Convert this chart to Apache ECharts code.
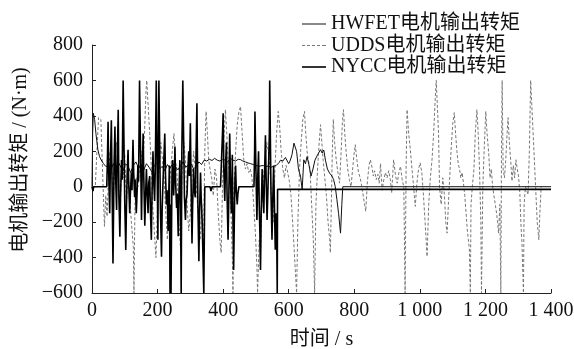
<!DOCTYPE html>
<html>
<head>
    <meta charset="utf-8" />
    <title>电机输出转矩</title>
    <script src="https://cdn.jsdelivr.net/npm/echarts@6/dist/echarts.min.js"></script>
    <style>
        html, body { margin: 0; padding: 0; background: #fff; }
    </style>
</head>
<body>
<div id="main" style="width: 574px;height:349px;"></div>

<script type="text/javascript">
    // 图例名称
    var seriesNames = ['HWFET电机输出转矩', 'UDDS电机输出转矩', 'NYCC电机输出转矩'];

    // HWFET 工况 [时间 s, 转矩 N·m]
    var hwfetData = [
        [0,0],[2,300],[4,415],[8,380],[12,300],[18,208],[23,170],[28,151],[35,130],[43,113],
        [50,125],[58,95],[65,130],[72,100],[80,140],[88,110],[95,90],[102,130],[110,115],[118,80],
        [126,120],[134,140],[142,105],[150,125],[158,95],[166,130],[174,110],[182,85],[190,120],[198,135],
        [206,100],[214,115],[222,90],[230,125],[238,105],[246,130],[254,115],[262,95],[270,120],[278,140],
        [286,110],[294,125],[302,130],[310,100],[318,115],[326,140],[334,125],[342,150],[350,145],[358,155],
        [366,148],[374,160],[382,150],[390,145],[398,155],[406,150],[414,140],[422,160],[430,150],[438,145],
        [446,155],[453,153],[460,145],[468,140],[476,134],[484,130],[492,125],[500,120],[508,115],[514,115],
        [522,120],[530,112],[538,118],[546,110],[554,115],[562,120],[570,135],[575,150],[582,145],[590,165],
        [595,170],[600,130],[605,150],[610,181],[616,246],[620,256],[624,200],[630,96],[636,60],[641,-17],
        [646,152],[651,130],[656,170],[662,120],[668,60],[674,100],[680,150],[688,180],[697,209],[702,190],
        [707,207],[712,150],[718,100],[725,76],[732,60],[737,40],[742,0],[747,-73],[752,-150],[758,-262],
        [762,-100],[765,0],[1400,0]
    ];

    // UDDS 工况
    var uddsData = [
        [0,0],[10,0],[15,200],[20,390],[27,380],[32,100],[38,-224],[42,-50],[46,-168],[50,50],
        [55,200],[60,100],[65,-80],[70,150],[75,250],[80,80],[85,-150],[90,100],[95,50],[100,180],
        [105,-100],[110,80],[115,-50],[120,-200],[126,-337],[128,-600],[131,-100],[135,50],[140,0],[145,100],
        [150,200],[155,100],[160,300],[165,550],[167,600],[172,600],[176,300],[180,150],[185,-100],[190,-250],
        [195,-400],[200,-100],[205,100],[210,250],[215,150],[220,50],[225,-150],[230,-300],[235,-50],[240,100],
        [245,200],[250,300],[255,150],[260,50],[265,-200],[270,-350],[275,100],[280,250],[285,150],[290,-100],
        [295,-250],[300,-150],[305,50],[310,200],[315,100],[320,-50],[325,-200],[330,-300],[335,-100],[340,-373],
        [344,200],[348,425],[352,300],[356,150],[360,100],[365,50],[370,-50],[375,100],[380,50],[385,-150],
        [390,-300],[394,-373],[398,0],[403,300],[407,435],[411,300],[415,150],[420,50],[425,-200],[428,-400],
        [430,-600],[433,0],[438,200],[443,350],[448,420],[453,453],[458,300],[463,150],[468,100],[473,130],
        [478,80],[483,100],[488,50],[493,-100],[498,-250],[503,-450],[505,-600],[507,-600],[510,-300],[514,-400],
        [518,-100],[523,50],[528,150],[533,250],[538,200],[543,100],[548,-100],[553,-200],[558,100],[563,300],
        [568,425],[572,350],[577,200],[582,100],[587,50],[592,120],[597,80],[602,30],[607,-50],[612,-200],
        [618,-400],[624,-600],[628,-200],[633,100],[638,250],[643,380],[648,425],[652,300],[656,200],[660,150],
        [665,100],[670,-100],[675,-300],[679,-600],[683,-100],[688,100],[693,250],[697,350],[701,250],[705,150],
        [710,50],[715,-50],[720,-200],[725,-300],[727,-373],[730,-100],[733,200],[736,380],[740,250],[745,150],
        [750,80],[755,20],[760,200],[764,380],[767,435],[771,300],[775,200],[780,100],[785,40],[790,0],
        [795,100],[799,180],[803,237],[808,150],[813,80],[818,50],[823,0],[828,-60],[835,-139],[840,30],
        [845,120],[849,152],[854,110],[858,60],[862,90],[867,40],[872,70],[876,20],[880,130],[885,-20],
        [890,40],[895,80],[900,50],[905,90],[910,40],[914,-35],[920,152],[926,60],[931,20],[936,80],
        [941,115],[946,40],[951,0],[955,-600],[958,100],[961,435],[966,300],[971,209],[976,100],[981,0],
        [986,-111],[991,20],[996,100],[1001,135],[1006,80],[1011,-50],[1016,-200],[1022,-394],[1027,-100],[1032,50],
        [1037,150],[1042,300],[1047,500],[1050,600],[1054,600],[1057,300],[1060,0],[1065,-100],[1070,50],[1075,-50],
        [1079,-200],[1083,-262],[1087,-100],[1091,50],[1095,200],[1100,350],[1105,418],[1109,300],[1113,200],[1117,130],
        [1121,100],[1125,50],[1129,80],[1133,20],[1137,-50],[1141,-150],[1145,-250],[1148,-300],[1151,-350],[1154,-600],
        [1156,-100],[1160,0],[1165,100],[1169,300],[1174,435],[1178,300],[1182,100],[1186,-200],[1188,-600],[1192,0],
        [1196,200],[1201,425],[1205,300],[1210,190],[1214,50],[1218,100],[1222,0],[1226,-50],[1230,-100],[1234,-150],
        [1237,-200],[1240,-262],[1244,-100],[1247,-600],[1249,200],[1251,600],[1254,100],[1258,50],[1262,150],[1266,300],
        [1269,390],[1273,250],[1277,150],[1281,32],[1285,120],[1289,50],[1293,152],[1297,100],[1301,60],[1305,-38],
        [1308,-200],[1311,-300],[1316,-600],[1318,-100],[1322,0],[1326,-10],[1330,-45],[1334,200],[1338,600],[1344,600],
        [1348,200],[1353,0],[1358,-200],[1363,-300],[1366,-150],[1370,0]
    ];

    // NYCC 工况
    var nyccData = [
        [0,0],[3,-25],[5,0],[45,0],[47,150],[49,367],[51,80],[54,-150],[56,120],[59,375],
        [61,50],[64,-433],[66,-100],[67,100],[70,340],[72,60],[75,-132],[77,150],[80,434],[82,-50],
        [85,-282],[87,-60],[90,150],[92,40],[95,600],[98,600],[100,-100],[103,-357],[105,-120],[107,50],
        [110,208],[112,20],[115,-150],[117,-40],[120,80],[122,-20],[125,265],[127,90],[130,-60],[132,40],
        [135,-150],[137,-60],[140,120],[142,30],[145,600],[147,600],[149,80],[151,-188],[153,60],[156,300],
        [158,50],[161,-220],[163,-80],[166,100],[168,-20],[171,-150],[173,20],[176,60],[178,-120],[181,-300],
        [183,-50],[186,200],[188,40],[191,-80],[193,100],[196,600],[199,600],[201,-300],[202,100],[204,600],
        [206,600],[209,-150],[212,-395],[214,-120],[217,50],[219,150],[222,300],[224,80],[227,-100],[229,-20],
        [232,-250],[234,-50],[236,120],[238,-600],[240,-100],[241,-600],[243,-150],[244,80],[246,150],[249,-50],
        [251,60],[253,227],[255,30],[258,-120],[260,-40],[263,-280],[265,-60],[268,150],[270,-100],[272,-600],
        [274,200],[277,600],[279,600],[282,-60],[285,-188],[287,-80],[290,-40],[292,80],[295,200],[297,60],
        [300,358],[302,50],[305,-320],[307,-100],[310,100],[312,-20],[315,-60],[317,150],[320,471],[323,-100],
        [326,-420],[328,-150],[331,80],[333,-60],[336,-200],[338,-350],[341,-600],[344,0],[360,0],[363,-25],
        [366,0],[392,0],[394,100],[396,200],[398,300],[400,415],[402,100],[405,-80],[407,100],[410,250],
        [412,-50],[415,-300],[417,-100],[420,300],[422,80],[425,-150],[427,-40],[428,180],[430,-200],[432,-470],
        [434,-200],[436,40],[438,120],[440,-20],[443,-100],[445,-40],[448,0],[494,0],[496,200],[497,425],
        [500,100],[503,-188],[505,20],[508,200],[510,-100],[512,-250],[514,-470],[516,-150],[519,100],[521,-20],
        [524,-150],[526,40],[529,290],[531,60],[534,-188],[536,-60],[539,150],[541,300],[542,600],[544,600],
        [546,-40],[549,-300],[551,-100],[554,120],[556,-60],[559,-356],[561,-150],[563,-200],[565,-600],[566,-15],
        [1400,-15]
    ];

    // 坐标轴刻度
    var xTicks = [0, 200, 400, 600, 800, 1000, 1200, 1400];
    var yTicks = [-600, -400, -200, 0, 200, 400, 600, 800];

    var serifFont = '"Liberation Serif", "Times New Roman", "Noto Sans CJK SC", serif';

    var myChart = echarts.init(document.getElementById('main'), null, { renderer: 'canvas' });

    var option = {
        backgroundColor: '#ffffff',
        animation: false,
        textStyle: { fontFamily: serifFont },
        grid: {
            left: 92, right: 23, top: 45, bottom: 56,
            containLabel: false,
            outerBoundsMode: 'none'
        },
        legend: {
            data: [
                { name: seriesNames[0], icon: 'path://M0,0h24v1h-24z' },
                { name: seriesNames[1], icon: 'path://M0,0h3v1h-3zM5,0h3v1h-3zM10,0h3v1h-3zM15,0h3v1h-3zM20,0h4v1h-4z' },
                { name: seriesNames[2], icon: 'path://M0,0h24v1.6h-24z' }
            ],
            orient: 'vertical',
            left: 302,
            top: 14,
            itemWidth: 24,
            itemHeight: 2,
            itemGap: 1.5,
            padding: 0,
            textStyle: { fontFamily: serifFont, fontSize: 20, color: '#111' }
        },
        xAxis: {
            type: 'value',
            min: xTicks[0],
            max: xTicks[xTicks.length - 1],
            interval: 200,
            name: '时间 / s',
            nameLocation: 'middle',
            nameGap: 37,
            nameTextStyle: { fontFamily: serifFont, fontSize: 20, color: '#111' },
            axisLine: { onZero: false, lineStyle: { color: '#222', width: 1 } },
            axisTick: { inside: true, length: 4, lineStyle: { color: '#222' } },
            axisLabel: {
                margin: 8,
                fontFamily: serifFont, fontSize: 20, color: '#111',
                formatter: function (v) {
                    return v >= 1000 ? Math.floor(v / 1000) + ' ' + String(v % 1000).padStart(3, '0') : String(v);
                }
            },
            splitLine: { show: false }
        },
        yAxis: {
            type: 'value',
            min: yTicks[0],
            max: yTicks[yTicks.length - 1],
            interval: 200,
            name: '电机输出转矩 / (N·m)',
            nameLocation: 'middle',
            nameGap: 60,
            nameTextStyle: { fontFamily: serifFont, fontSize: 20, color: '#111', padding: [0, 0, 0, 18] },
            axisLine: { show: true, onZero: false, lineStyle: { color: '#222', width: 1 } },
            axisTick: { show: true, inside: true, length: 4, lineStyle: { color: '#222' } },
            axisLabel: {
                margin: 9,
                fontFamily: serifFont, fontSize: 20, color: '#111',
                formatter: function (v) { return String(v).replace('-', '\u2212'); }
            },
            splitLine: { show: false }
        },
        series: [
            {
                name: seriesNames[0],
                type: 'line',
                data: hwfetData,
                symbol: 'none',
                z: 3,
                lineStyle: { color: '#111', width: 1 },
                itemStyle: { color: '#111' }
            },
            {
                name: seriesNames[1],
                type: 'line',
                data: uddsData,
                symbol: 'none',
                z: 2,
                lineStyle: { color: '#777', width: 1, type: [3, 2] },
                itemStyle: { color: '#777' }
            },
            {
                name: seriesNames[2],
                type: 'line',
                data: nyccData,
                symbol: 'none',
                z: 4,
                lineStyle: { color: '#000', width: 1.6 },
                itemStyle: { color: '#000' }
            }
        ]
    };
    myChart.setOption(option);
</script>
</body>
</html>
